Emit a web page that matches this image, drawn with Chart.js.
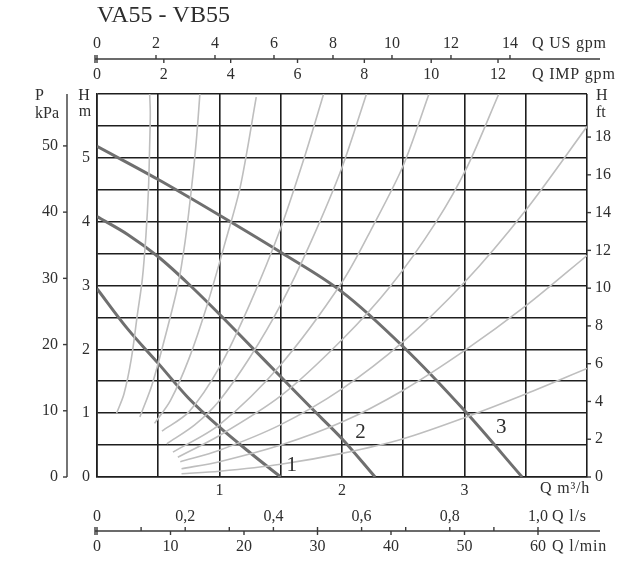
<!DOCTYPE html>
<html><head><meta charset="utf-8">
<script src="https://cdn.jsdelivr.net/npm/chart.js@4.4.1/dist/chart.umd.min.js"></script>
<style>html,body{margin:0;padding:0;background:#fff;}canvas{display:block;}</style>
</head><body>
<canvas id="c" width="637" height="575"></canvas>
<script>
const TITLE = 'VA55 - VB55';
// pump curves [Q m3/h, H m]
const PUMP_1 = [[0,2.95],[0.25,2.32],[0.5,1.78],[0.75,1.23],[1.0,0.78],[1.25,0.38],[1.5,0]];
const PUMP_2 = [[0,4.08],[0.25,3.8],[0.5,3.45],[0.75,3.02],[1.0,2.55],[1.25,2.06],[1.5,1.57],[1.75,1.08],[2.0,0.6],[2.27,0]];
const PUMP_3 = [[0,5.18],[0.5,4.66],[1.0,4.1],[1.5,3.52],[2.0,2.9],[2.5,2.04],[3.0,1.04],[3.47,0]];
// light grey system curves [Q m3/h, H m]
const SYS_A = [[0.16,1.0],[0.22,1.3],[0.28,1.85],[0.33,2.55],[0.37,3.1],[0.40,3.8],[0.42,4.5],[0.43,5.2],[0.435,5.7],[0.43,6.0]];
const SYS_B = [[0.35,0.94],[0.45,1.45],[0.55,2.15],[0.66,3.0],[0.72,3.7],[0.77,4.5],[0.81,5.25],[0.84,6.0]];
const SYS_C = [[0.47,0.84],[0.6,1.2],[0.75,1.85],[0.9,2.7],[1.05,3.7],[1.17,4.55],[1.3,5.95]];
const SYS_D = [[0.53,0.72],[0.75,1.02],[1.0,1.72],[1.25,2.72],[1.5,3.9],[1.7,5.05],[1.85,6.0]];
const SYS_E = [[0.57,0.52],[0.8,0.82],[1.0,1.2],[1.25,1.88],[1.5,2.7],[1.75,3.7],[2.0,4.85],[2.2,6.0]];
const SYS_F = [[0.62,0.39],[1.0,0.82],[1.5,1.76],[2.0,3.05],[2.25,3.92],[2.5,4.88],[2.71,6.0]];
const SYS_G = [[0.66,0.31],[1.0,0.65],[1.5,1.27],[2.0,2.15],[2.4,3.0],[2.77,4.0],[3.02,4.85],[3.28,6.0]];
const SYS_H = [[0.68,0.24],[1.0,0.42],[1.5,0.82],[2.0,1.38],[2.5,2.12],[3.0,3.05],[3.5,4.18],[4.0,5.49]];
const SYS_I = [[0.69,0.13],[1.0,0.24],[1.5,0.5],[2.0,0.86],[2.5,1.36],[3.0,1.98],[3.5,2.68],[4.0,3.47]];
const SYS_J = [[0.69,0.05],[1.0,0.09],[1.5,0.2],[2.0,0.37],[2.5,0.6],[3.0,0.93],[3.5,1.3],[4.0,1.70]];
// curve number labels [label, Q, H]
const CURVE_LABELS = [['1',1.59,0.18],['2',2.15,0.70],['3',3.30,0.78]];
// axis ticks
const X_LABELS = [1,2,3];
const Y_LABELS = [0,1,2,3,4,5];
const KPA_TICKS = [0,10,20,30,40,50];
const FT_TICKS = [0,2,4,6,8,10,12,14,16,18];
const US_GPM_TICKS = [0,2,4,6,8,10,12,14];
const IMP_GPM_TICKS = [0,2,4,6,8,10,12];
const LS_TICKS = [0,0.1,0.2,0.3,0.4,0.5,0.6,0.7,0.8,0.9,1.0];
const LS_LABELS = [0,0.2,0.4,0.6,0.8,1.0];
const LMIN_TICKS = [0,10,20,30,40,50,60];
// unit factors as drawn on the sheet
const KPA_PER_M = 9.64;
const FT_PER_M = 3.38;
const M3H_PER_USGPM = 0.2408;
const M3H_PER_IMPGPM = 0.2728;
const M3H_PER_LS = 3.6;
const M3H_PER_LMIN = 0.06;

const SERIF = '"Liberation Serif", "DejaVu Serif", serif';
const xy = a => a.map(([x,y]) => ({x,y}));

const sysCurves = [SYS_A,SYS_B,SYS_C,SYS_D,SYS_E,SYS_F,SYS_G,SYS_H,SYS_I,SYS_J];
const datasets = [];
sysCurves.forEach(c => datasets.push({data: xy(c), borderColor:'#bebebe', borderWidth:1.6, pointRadius:0, showLine:true, tension:0.3, fill:false}));
[PUMP_1,PUMP_2,PUMP_3].forEach(c => datasets.push({data: xy(c), borderColor:'#6f6f6f', borderWidth:3, pointRadius:0, showLine:true, cubicInterpolationMode:'monotone', fill:false}));

const aux = {
  id:'aux',
  afterDraw(chart){
    const {ctx, scales:{x,y}} = chart;
    const px = q => x.getPixelForValue(q);
    const py = h => y.getPixelForValue(h);
    const top = py(6), bot = py(0);
    ctx.save();
    ctx.fillStyle = '#2e2e2e';
    ctx.strokeStyle = '#3a3a3a';
    ctx.lineWidth = 1.4;
    const line = (x1,y1,x2,y2) => {ctx.beginPath();ctx.moveTo(x1,y1);ctx.lineTo(x2,y2);ctx.stroke();};
    const text = (t,xx,yy,align,size,sp) => {ctx.font = (size||16)+'px '+SERIF;ctx.letterSpacing=(sp||0)+'px';ctx.textAlign=align||'center';ctx.textBaseline='middle';ctx.fillText(t,xx,yy);ctx.letterSpacing='0px';};
    // title
    ctx.font = '24px '+SERIF; ctx.textAlign='left'; ctx.textBaseline='alphabetic';
    ctx.fillText(TITLE, 97, 22);
    // top axis (US gpm above, IMP gpm below)
    const TY = 59;
    line(px(0)-2, TY, px(4)+13, TY);
    line(px(0)-2, TY-4, px(0)-2, TY+4);
    US_GPM_TICKS.forEach(g => {const xx = px(g*M3H_PER_USGPM); line(xx,TY,xx,TY-4); text(String(g), xx, TY-15);});
    IMP_GPM_TICKS.forEach(g => {const xx = px(g*M3H_PER_IMPGPM); line(xx,TY,xx,TY+4); text(String(g), xx, TY+16);});
    text('Q US gpm', 532, TY-15, 'left', 16, 0.8);
    text('Q IMP gpm', 532, TY+16, 'left', 16, 0.8);
    // bottom axis (l/s above, l/min below)
    const BY = 531;
    line(px(0)-2, BY, px(4)+13, BY);
    line(px(0)-2, BY-4, px(0)-2, BY+4);
    LS_TICKS.forEach(v => {const xx = px(v*M3H_PER_LS); line(xx,BY,xx,BY-4);});
    LS_LABELS.forEach(v => {const xx = px(v*M3H_PER_LS); text(v===0?'0':v.toFixed(1).replace('.',','), xx, BY-14);});
    LMIN_TICKS.forEach(v => {const xx = px(v*M3H_PER_LMIN); line(xx,BY,xx,BY+4); text(String(v), xx, BY+16);});
    text('Q l/s', px(LS_LABELS[LS_LABELS.length-1]*M3H_PER_LS)+14, BY-14, 'left', 16, 0.8);
    text('Q l/min', px(LMIN_TICKS[LMIN_TICKS.length-1]*M3H_PER_LMIN)+14, BY+16, 'left', 16, 0.8);
    text('Q m\u00B3/h', 540, 489, 'left', 16, 0.8);
    // kPa axis
    const KX = 67;
    line(KX, top, KX, bot);
    KPA_TICKS.forEach(k => {const yy = py(k/KPA_PER_M); line(KX-4,yy,KX,yy); text(String(k), 58, yy, 'right');});
    text('P', 35, 96, 'left');
    text('kPa', 35, 114, 'left');
    // H m titles
    text('H', 84, 96);
    text('m', 85, 112);
    // ft axis
    const RX = px(4);
    FT_TICKS.forEach(f => {const yy = py(f/FT_PER_M); line(RX,yy,RX+4,yy); text(String(f), 595, yy, 'left');});
    text('H', 596, 96, 'left');
    text('ft', 596, 113, 'left');
    // curve numbers
    CURVE_LABELS.forEach(([t,q,h]) => text(t, px(q), py(h), 'center', 21));
    ctx.restore();
  }
};

new Chart(document.getElementById('c'), {
  type:'scatter',
  data:{datasets},
  options:{
    responsive:false, animation:false, devicePixelRatio:1,
    layout:{padding:{left:67, top:94, right:50, bottom:78}},
    plugins:{legend:{display:false}, tooltip:{enabled:false}},
    scales:{
      x:{type:'linear', min:0, max:4,
        afterFit(s){s.height=20;},
        grid:{color:'#1e1e1e', lineWidth:1.6, drawTicks:false},
        border:{display:true, color:'#1e1e1e', width:1.6},
        ticks:{stepSize:0.5, padding:4, autoSkip:false, maxRotation:0, color:'#2e2e2e', font:{family:SERIF, size:16},
          callback:v => X_LABELS.includes(v) ? String(v) : ''}},
      y:{type:'linear', min:0, max:6,
        afterFit(s){s.width=30;},
        grid:{color:'#1e1e1e', lineWidth:1.6, drawTicks:false},
        border:{display:true, color:'#1e1e1e', width:1.6},
        ticks:{stepSize:0.5, padding:7, autoSkip:false, color:'#2e2e2e', font:{family:SERIF, size:16},
          callback:v => Y_LABELS.includes(v) ? String(v) : ''}}
    }
  },
  plugins:[aux]
});
</script>
</body></html>
